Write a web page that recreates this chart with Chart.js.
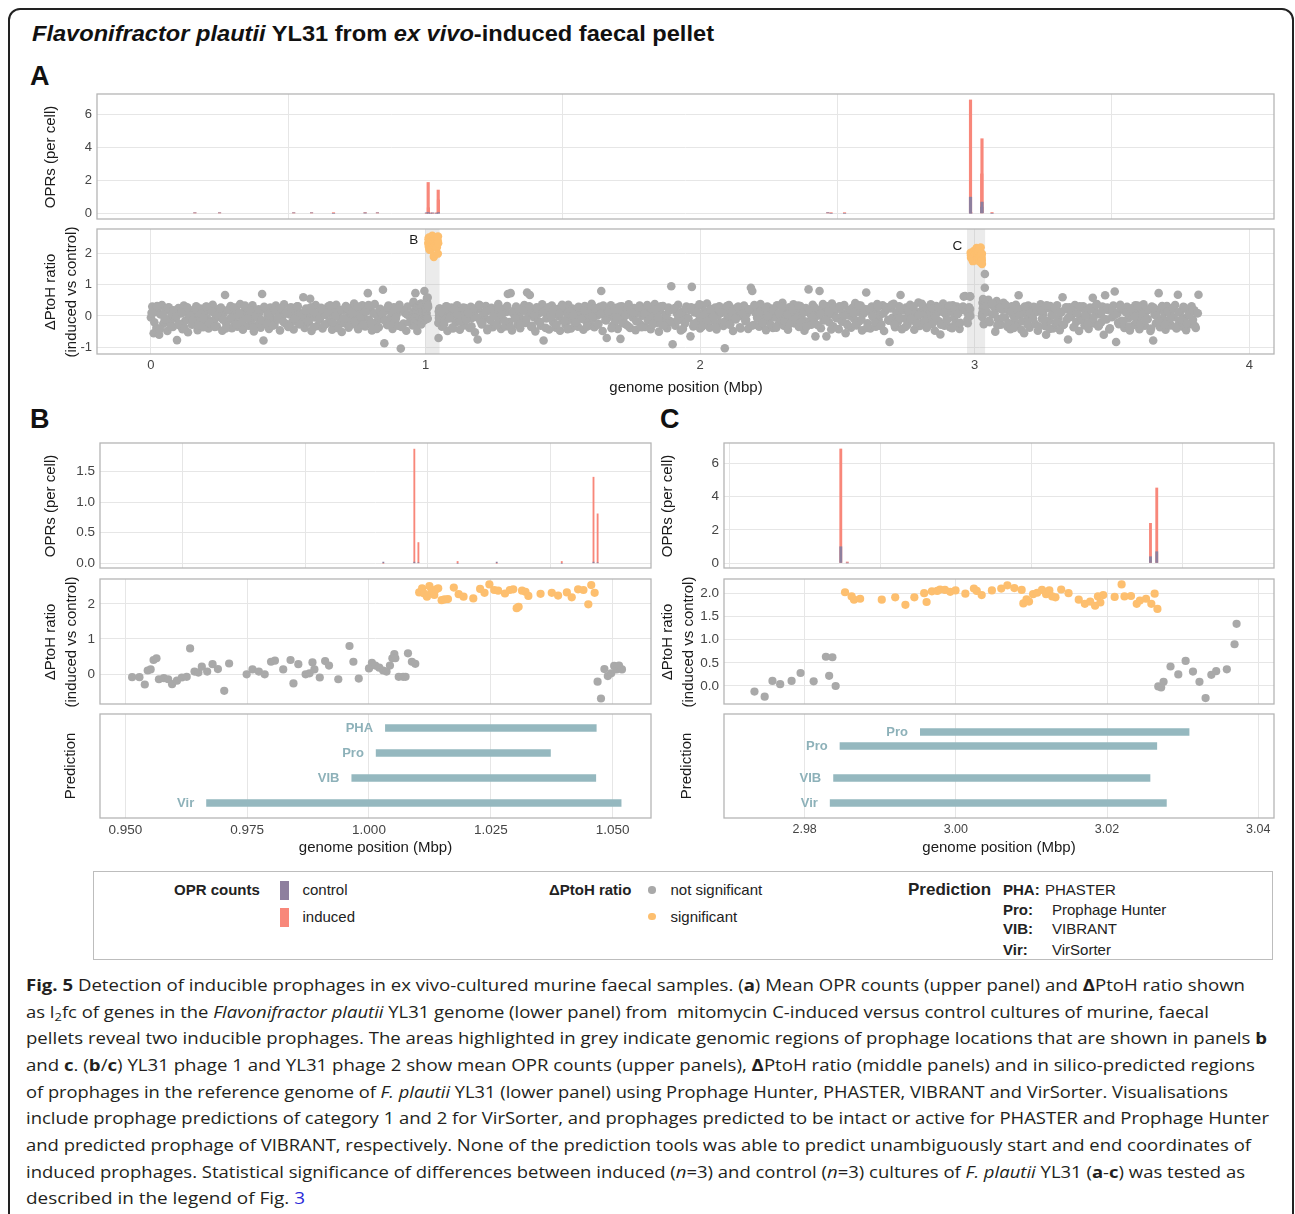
<!DOCTYPE html>
<html>
<head>
<meta charset="utf-8">
<script src="https://cdn.jsdelivr.net/npm/chart.js@4/dist/chart.umd.min.js"></script>
<style>
	body { margin: 0; width: 1295px; height: 1214px; position: relative; overflow: hidden; background: #fff; font-family: "Liberation Sans", Arial, sans-serif; color: #1a1a1a; }
	canvas { position: absolute; }
	.t { position: absolute; white-space: nowrap; }
	.rot { position: absolute; white-space: nowrap; font-size: 15px; line-height: 15px; transform: translate(-50%, -50%) rotate(-90deg); }
	.xt { position: absolute; white-space: nowrap; font-size: 15px; line-height: 15px; transform: translateX(-50%); }
	.letter { position: absolute; font-size: 27px; line-height: 27px; font-weight: bold; color: #111; }
	.cap { position: absolute; left: 26px; white-space: nowrap; font-family: "Open Sans", sans-serif; font-size: 16.5px; line-height: 16.5px; color: #231f20; transform-origin: 0 0; }
	.cap sub { font-size: 0.7em; vertical-align: -0.25em; line-height: 0; }
	.lg { position: absolute; white-space: nowrap; font-size: 15px; line-height: 15px; color: #222; }
</style>
</head>
<body>
<div style="position:absolute;left:8px;top:8px;width:1282px;height:1260px;border:2px solid #222;border-radius:12px;"></div>

<div id="title" class="t" style="left:32px;top:23px;font-size:22px;line-height:22px;font-weight:bold;color:#111;transform-origin:0 0;"><i>Flavonifractor plautii</i> YL31 from <i>ex vivo</i>-induced faecal pellet</div>

<div class="letter" style="left:30px;top:63px;">A</div>
<div class="letter" style="left:30px;top:406px;">B</div>
<div class="letter" style="left:660px;top:406px;">C</div>

<canvas id="cA1"></canvas>
<canvas id="cA2"></canvas>
<canvas id="cB1"></canvas>
<canvas id="cB2"></canvas>
<canvas id="cB3"></canvas>
<canvas id="cC1"></canvas>
<canvas id="cC2"></canvas>
<canvas id="cC3"></canvas>

<div class="rot" style="left:48.5px;top:157px;">OPRs (per cell)</div>
<div class="rot" style="left:49px;top:291.5px;">ΔPtoH ratio</div>
<div class="rot" style="left:69.5px;top:291.5px;">(induced vs control)</div>
<div class="xt" style="left:686px;top:379px;">genome position (Mbp)</div>

<div class="rot" style="left:49.4px;top:505.5px;">OPRs (per cell)</div>
<div class="rot" style="left:49.4px;top:641.5px;">ΔPtoH ratio</div>
<div class="rot" style="left:69.8px;top:641.5px;">(induced vs control)</div>
<div class="rot" style="left:69px;top:766px;">Prediction</div>
<div class="xt" style="left:375.5px;top:838.5px;">genome position (Mbp)</div>

<div class="rot" style="left:666px;top:505.5px;">OPRs (per cell)</div>
<div class="rot" style="left:666px;top:641.5px;">ΔPtoH ratio</div>
<div class="rot" style="left:686.5px;top:641.5px;">(induced vs control)</div>
<div class="rot" style="left:685px;top:766px;">Prediction</div>
<div class="xt" style="left:999px;top:838.5px;">genome position (Mbp)</div>

<!-- legend -->
<div style="position:absolute;left:93px;top:871px;width:1178px;height:87px;border:1.5px solid #bdbdbd;"></div>
<div class="lg" style="left:174px;top:881.5px;font-weight:bold;">OPR counts</div>
<div style="position:absolute;left:280px;top:881px;width:9px;height:19px;background:#8E7F9E;"></div>
<div style="position:absolute;left:280px;top:908px;width:9px;height:19px;background:#F8877A;"></div>
<div class="lg" style="left:302.5px;top:881.5px;">control</div>
<div class="lg" style="left:302.5px;top:908.5px;">induced</div>
<div class="lg" style="left:549px;top:881.5px;font-weight:bold;">ΔPtoH ratio</div>
<div style="position:absolute;left:648px;top:886px;width:7.5px;height:7.5px;border-radius:50%;background:#A9A9A9;"></div>
<div style="position:absolute;left:648px;top:912.5px;width:7.5px;height:7.5px;border-radius:50%;background:#FDBF6F;"></div>
<div class="lg" style="left:670.5px;top:881.5px;">not significant</div>
<div class="lg" style="left:670.5px;top:908.5px;">significant</div>
<div class="lg" style="left:908px;top:880.5px;font-size:17px;line-height:17px;font-weight:bold;">Prediction</div>
<div class="lg" style="left:1003px;top:881.5px;font-weight:bold;">PHA:</div>
<div class="lg" style="left:1045px;top:881.5px;">PHASTER</div>
<div class="lg" style="left:1003px;top:902px;font-weight:bold;">Pro:</div>
<div class="lg" style="left:1052px;top:902px;">Prophage Hunter</div>
<div class="lg" style="left:1003px;top:921px;font-weight:bold;">VIB:</div>
<div class="lg" style="left:1052px;top:921px;">VIBRANT</div>
<div class="lg" style="left:1003px;top:941.5px;font-weight:bold;">Vir:</div>
<div class="lg" style="left:1052px;top:941.5px;">VirSorter</div>

<!-- caption -->
<div class="cap" data-w="1219" style="top:977px;"><b>Fig. 5</b> Detection of inducible prophages in ex vivo-cultured murine faecal samples. (<b>a</b>) Mean OPR counts (upper panel) and <b>Δ</b>PtoH ratio shown</div>
<div class="cap" data-w="1183" style="top:1003.7px;">as l<sub>2</sub>fc of genes in the <i>Flavonifractor plautii</i> YL31 genome (lower panel) from&nbsp; mitomycin C-induced versus control cultures of murine, faecal</div>
<div class="cap" data-w="1241" style="top:1030.4px;">pellets reveal two inducible prophages. The areas highlighted in grey indicate genomic regions of prophage locations that are shown in panels <b>b</b></div>
<div class="cap" data-w="1229" style="top:1057px;">and <b>c</b>. (<b>b</b>/<b>c</b>) YL31 phage 1 and YL31 phage 2 show mean OPR counts (upper panels), <b>Δ</b>PtoH ratio (middle panels) and in silico-predicted regions</div>
<div class="cap" data-w="1202" style="top:1083.7px;">of prophages in the reference genome of <i>F. plautii</i> YL31 (lower panel) using Prophage Hunter, PHASTER, VIBRANT and VirSorter. Visualisations</div>
<div class="cap" data-w="1243" style="top:1110.4px;">include prophage predictions of category 1 and 2 for VirSorter, and prophages predicted to be intact or active for PHASTER and Prophage Hunter</div>
<div class="cap" data-w="1225" style="top:1137px;">and predicted prophage of VIBRANT, respectively. None of the prediction tools was able to predict unambiguously start and end coordinates of</div>
<div class="cap" data-w="1219" style="top:1163.7px;">induced prophages. Statistical significance of differences between induced (<i>n</i>=3) and control (<i>n</i>=3) cultures of <i>F. plautii</i> YL31 (<b>a</b>-<b>c</b>) was tested as</div>
<div class="cap" data-w="279" style="top:1190.4px;">described in the legend of Fig. <span style="color:#2a2ad8">3</span></div>

<script>
"use strict";

// ---------- data ----------

// OPR counts (per cell), genome position in Mbp
const oprPos     = [0.16, 0.25, 0.52, 0.585, 0.665, 0.78, 0.825, 1.00343, 1.00975, 1.01058, 1.01857, 1.02654, 1.0398, 1.04627, 1.04711, 2.465, 2.477, 2.526, 2.98478, 2.98564, 3.02575, 3.02658, 3.063];
const oprInduced = [0.02, 0.02, 0.02, 0.02, 0.04, 0.04, 0.02, 0.0, 1.87, 0.34, 0.03, 0.0, 0.03, 1.41, 0.81, 0.02, 0.04, 0.04, 6.87, 0.06, 2.39, 4.52, 0.05];
const oprControl = [0.03, 0.03, 0.03, 0.03, 0.0, 0.01, 0.03, 0.02, 0.02, 0.01, 0.0, 0.02, 0.0, 0.02, 0.01, 0.04, 0.0, 0.0, 0.98, 0.0, 0.38, 0.68, 0.0];

// delta PtoH ratio, genome-wide background (not significant), one value every 5 kb
const ptohBgStep = 0.005;
const ptohBg1Start = 0.0;
const ptohBg1 = [
	-0.05, 0.30, -0.55, 0.12, -0.38, 0.22, -0.60, 0.05, 0.35, -0.25,
	-0.12, 0.18, -0.48, 0.28, -0.20, 0.02, -0.35, 0.15, -0.08, -0.77,
	0.25, -0.30, 0.08, -0.42, 0.33, -0.15, 0.10, -0.52, 0.20, -0.02,
	-0.28, 0.14, -0.10, 0.31, -0.45, 0.04, 0.24, -0.18, -0.36, 0.11,
	0.29, -0.07, -0.40, 0.17, -0.22, 0.36, -0.13, 0.06, -0.33, 0.21,
	-0.04, 0.27, -0.47, 0.09, 0.67, -0.26, 0.19, -0.11, 0.32, -0.39,
	0.13, -0.19, 0.26, -0.34, 0.01, 0.38, -0.23, -0.44, 0.16, -0.06,
	0.23, -0.31, 0.07, -0.14, 0.34, -0.49, 0.18, -0.03, -0.27, 0.10,
	-0.37, 0.70, -0.78, 0.22, -0.16, 0.04, -0.41, 0.27, -0.09, 0.15,
	-0.29, 0.33, -0.12, 0.08, -0.46, 0.20, -0.01, 0.37, -0.24, 0.12,
	-0.35, 0.05, 0.28, -0.18, -0.43, 0.16, -0.07, 0.31, -0.26, 0.09,
	-0.15, 0.60, -0.38, 0.24, 0.02, -0.21, 0.55, -0.48, 0.13, -0.05,
	0.35, -0.32, 0.10, -0.11, 0.26, -0.40, 0.19, 0.03, -0.25, 0.30,
	-0.17, 0.07, -0.44, 0.22, -0.02, 0.36, -0.30, 0.14, -0.09, -0.51,
	0.18, -0.23, 0.32, -0.06, -0.37, 0.11, 0.25, -0.14, 0.40, -0.28,
	0.06, -0.42, 0.21, -0.19, 0.34, -0.03, -0.33, 0.15, 0.73, -0.12,
	0.27, -0.46, 0.09, 0.38, -0.20, 0.01, -0.36, 0.23, -0.10, 0.84,
	-0.87, 0.17, -0.29, 0.33, -0.08, 0.12, -0.41, 0.28, -0.15, 0.05,
	-0.31, 0.36, -1.04, 0.20, -0.24, 0.10, -0.47, 0.30, 0.02, -0.18
];
const ptohBg2Start = 1.055;
const ptohBg2 = [
	0.22, -0.34, 0.08, -0.15, 0.31, -0.48, 0.12, -0.02, 0.27, -0.40,
	0.05, -0.21, 0.34, -0.09, -0.44, 0.18, 0.02, -0.30, 0.25, -0.12,
	0.14, -0.38, 0.29, -0.06, 0.09, -0.52, 0.21, -0.75, 0.36, -0.17,
	-0.27, 0.11, -0.03, 0.32, -0.45, 0.17, -0.13, 0.26, -0.36, 0.04,
	0.19, -0.24, 0.38, -0.10, -0.41, 0.07, 0.23, -0.33, 0.13, 0.70,
	-0.19, 0.73, -0.46, 0.16, -0.07, 0.30, -0.28, 0.01, -0.39, 0.24,
	-0.11, 0.35, -0.22, 0.75, 0.06, 0.67, -0.35, 0.20, -0.04, -0.49,
	0.28, -0.16, 0.10, -0.31, 0.37, -0.78, 0.15, -0.08, 0.25, -0.43,
	0.03, 0.33, -0.20, 0.12, -0.37, 0.22, -0.01, -0.47, 0.30, -0.14,
	0.18, -0.29, 0.08, 0.36, -0.12, -0.40, 0.24, 0.00, -0.23, 0.14,
	-0.34, 0.27, -0.06, 0.11, -0.44, 0.32, -0.17, 0.05, 0.21, -0.30,
	0.39, -0.09, -0.36, 0.16, 0.02, -0.25, 0.29, 0.80, -0.48, 0.09,
	-0.13, -0.70, 0.23, -0.02, 0.34, -0.32, 0.13, -0.19, 0.26, -0.41,
	0.07, -0.73, 0.31, -0.11, 0.18, -0.27, 0.04, 0.37, -0.38, 0.15,
	-0.05, 0.25, -0.45, 0.10, -0.18, 0.33, -0.29, 0.01, 0.20, -0.35,
	0.29, -0.14, 0.06, -0.42, 0.24, -0.03, 0.38, -0.22, 0.12, -0.50,
	0.17, -0.26, 0.32, -0.08, 0.03, -0.39, 0.27, -0.16, 0.95, -0.90,
	0.21, -0.31, 0.09, 0.36, -0.12, -0.46, 0.14, 0.01, -0.24, 0.30,
	-0.07, 0.19, -0.65, 0.93, -0.33, 0.11, 0.26, -0.19, 0.05, -0.40,
	0.34, -0.10, 0.16, -0.28, 0.40, -0.04, -0.37, 0.22, 0.08, -0.15,
	0.27, -0.43, 0.02, 0.31, -0.21, 0.13, -0.32, -1.03, 0.18, -0.06,
	0.35, -0.26, 0.10, -0.48, 0.23, -0.11, 0.04, 0.29, -0.36, 0.15,
	-0.02, 0.33, -0.17, 0.07, -0.41, 0.20, 0.90, 0.80, -0.29, 0.12,
	0.26, -0.09, -0.34, 0.38, 0.00, -0.22, 0.17, -0.45, 0.30, -0.13,
	0.09, 0.24, -0.38, 0.14, -0.05, 0.34, -0.27, 0.06, -0.16, 0.42,
	-0.31, 0.19, -0.02, -0.44, 0.28, -0.12, 0.11, 0.37, -0.24, 0.03,
	0.21, -0.35, 0.32, -0.07, 0.15, -0.47, 0.25, -0.18, 0.85, 0.08,
	-0.28, 0.36, -0.10, -0.65, 0.18, 0.02, 0.80, -0.39, 0.27, -0.14,
	0.12, -0.65, 0.31, -0.20, 0.05, 0.40, -0.33, 0.16, -0.04, 0.23,
	-0.42, 0.29, -0.15, 0.09, 0.35, -0.55, -0.25, 0.19, 0.01, -0.37,
	0.26, -0.08, 0.41, -0.30, 0.13, -0.17, 0.33, -0.46, 0.07, 0.22,
	0.75, -0.23, 0.15, -0.40, 0.30, -0.03, 0.20, -0.34, 0.38, -0.11,
	0.04, -0.27, 0.34, -0.48, 0.17, 0.28, -0.13, -0.83, 0.24, -0.06,
	0.39, -0.36, 0.10, -0.19, 0.31, 0.67, -0.42, 0.18, -0.09, 0.27,
	-0.29, 0.06, 0.36, -0.14, 0.22, -0.44, 0.13, -0.01, 0.43, -0.32,
	0.16, -0.21, 0.29, 0.03, -0.38, 0.25, -0.10, 0.37, -0.26, 0.08,
	-0.47, 0.32, 0.11, -0.17, -0.59, 0.20, 0.40, -0.31, 0.05, -0.12,
	0.28, -0.36, 0.14, 0.34, -0.06, -0.23, 0.30, 0.09, -0.41, 0.19,
	0.26, 0.62, 0.64
];
const ptohBg3Start = 3.040;
const ptohBg3 = [
	0.45, 0.12, 0.52, -0.20, 0.38, 0.05, 0.30, -0.50, 0.48, -0.10,
	0.35, -0.28, 0.20, 0.42, -0.05, 0.27, -0.35, 0.15, -0.42, 0.31,
	0.02, -0.18, 0.36, -0.30, 0.66, 0.10, -0.44, 0.24, -0.55, 0.08,
	-0.13, 0.33, -0.37, 0.18, -0.02, 0.29, -0.25, 0.13, -0.47, 0.21,
	0.37, -0.09, 0.06, -0.32, -0.60, 0.26, -0.16, 0.32, 0.01, -0.40,
	0.17, -0.22, 0.34, -0.06, -0.45, 0.11, 0.60, -0.27, 0.22, -0.12,
	-0.75, 0.28, -0.03, 0.14, -0.36, 0.35, -0.19, 0.07, -0.48, 0.25,
	-0.08, 0.31, -0.30, 0.16, 0.02, -0.41, 0.27, -0.14, 0.58, -0.24,
	0.12, 0.38, -0.33, 0.05, -0.21, 0.30, -0.60, 0.66, -0.11, 0.19,
	-0.43, 0.24, -0.04, 0.33, 0.78, -0.83, 0.09, -0.26, 0.36, -0.15,
	0.20, -0.38, 0.13, 0.29, -0.07, -0.46, 0.23, 0.00, -0.29, 0.34,
	-0.17, 0.10, -0.42, 0.26, -0.01, 0.37, -0.31, 0.15, -0.10, 0.21,
	-0.48, 0.30, -0.78, 0.04, -0.23, 0.18, 0.73, -0.36, 0.27, -0.09,
	0.11, -0.44, 0.32, -0.15, 0.07, -0.30, 0.25, -0.04, 0.35, -0.40,
	0.68, -0.19, 0.14, -0.33, 0.29, -0.07, -0.45, 0.22, 0.03, -0.26,
	0.31, -0.12, 0.18, -0.38, 0.09, 0.68
];

// extra genes sitting between the ones above (one every 10 kb, shifted by 2.5 kb)
const ptohFillStep = 0.01;
const ptohFill1Start = 0.0025;
const ptohFill1 = [
	0.10, -0.20, 0.32, -0.42, 0.05, -0.10, 0.26, -0.33, 0.18, -0.02,
	-0.25, 0.12, -0.38, 0.28, 0.00, -0.15, 0.22, -0.30, 0.08, -0.06,
	0.30, -0.22, 0.14, -0.35, 0.03, 0.24, -0.12, -0.40, 0.19, -0.05,
	0.27, -0.28, 0.09, -0.17, 0.33, -0.08, 0.16, -0.37, 0.02, 0.21,
	-0.13, 0.29, -0.24, 0.07, -0.31, 0.17, -0.04, 0.25, -0.19, 0.11,
	-0.34, 0.23, -0.09, 0.31, -0.26, 0.04, 0.18, -0.16, 0.28, -0.36,
	0.06, -0.11, 0.22, -0.29, 0.13, 0.34, -0.21, 0.01, -0.39, 0.20,
	-0.07, 0.26, -0.32, 0.10, -0.18, 0.30, -0.02, -0.27, 0.15, 0.35,
	-0.23, 0.08, -0.41, 0.19, 0.03, -0.14, 0.27, -0.30, 0.12, -0.06,
	0.24, -0.35, 0.16, 0.05, -0.20
];
const ptohFill2Start = 1.0575;
const ptohFill2 = [
	0.15, -0.26, 0.30, -0.08, -0.37, 0.21, 0.02, -0.18, 0.27, -0.12,
	0.09, -0.33, 0.24, -0.04, 0.34, -0.22, 0.12, -0.40, 0.19, -0.01,
	-0.29, 0.26, 0.05, -0.15, 0.32, -0.35, 0.10, -0.07, 0.22, -0.25,
	0.17, -0.11, 0.31, -0.31, 0.04, 0.23, -0.19, 0.13, -0.38, 0.28,
	-0.03, 0.20, -0.27, 0.08, 0.36, -0.16, -0.42, 0.14, 0.01, -0.21,
	0.29, -0.09, 0.18, -0.34, 0.11, -0.02, 0.25, -0.28, 0.06, 0.33,
	-0.14, 0.16, -0.39, 0.22, -0.06, 0.30, -0.23, 0.03, -0.32, 0.19,
	0.12, -0.17, 0.27, -0.36, 0.07, 0.35, -0.10, -0.26, 0.21, -0.04,
	0.31, -0.30, 0.02, 0.17, -0.20, 0.25, -0.13, 0.09, -0.41, 0.23,
	-0.07, 0.28, -0.24, 0.14, 0.37, -0.33, 0.05, -0.15, 0.20, -0.02,
	-0.36, 0.24, 0.10, -0.19, 0.32, -0.28, 0.16, -0.08, 0.29, -0.40,
	0.06, -0.12, 0.21, -0.31, 0.35, -0.05, 0.13, -0.22, 0.26, 0.00,
	-0.27, 0.18, -0.37, 0.09, 0.30, -0.16, 0.04, -0.25, 0.22, -0.10,
	0.33, -0.20, 0.11, -0.34, 0.19, -0.03, 0.27, -0.29, 0.07, 0.38,
	-0.13, 0.15, -0.43, 0.25, -0.07, 0.31, -0.18, 0.02, -0.30, 0.20,
	0.10, -0.24, 0.34, -0.11, 0.17, -0.38, 0.23, -0.01, -0.21, 0.29,
	-0.32, 0.08, 0.26, -0.15, 0.36, -0.27, 0.12, -0.06, 0.21, -0.35,
	0.18, -0.09, 0.30, -0.23, 0.03, 0.39, -0.17, -0.33, 0.14, 0.24,
	-0.05, 0.27, -0.28, 0.11, -0.14, 0.33, -0.39, 0.20, 0.06, -0.22,
	0.30, 0.16
];
const ptohFill3Start = 3.0425;
const ptohFill3 = [
	0.32, -0.15, 0.40, 0.08, -0.30, 0.25, -0.05, 0.36, -0.22, 0.14,
	-0.38, 0.21, 0.02, -0.17, 0.30, -0.27, 0.10, -0.08, 0.26, -0.33,
	0.17, -0.12, 0.34, -0.41, 0.06, 0.23, -0.20, 0.12, -0.29, 0.28,
	-0.03, 0.19, -0.35, 0.09, 0.31, -0.14, 0.01, -0.24, 0.22, -0.06,
	0.35, -0.31, 0.13, -0.10, 0.27, -0.39, 0.18, 0.04, -0.21, 0.29,
	-0.16, 0.11, -0.34, 0.24, -0.02, 0.33, -0.26, 0.07, -0.13, 0.20,
	-0.40, 0.26, 0.00, -0.18, 0.32, -0.28, 0.15, -0.07, 0.23, -0.36,
	0.12, -0.11, 0.28, -0.25, 0.05, 0.19, -0.32, 0.09
];

// prophage region 1 (panel B)
const bGreyPos = [0.9514, 0.9529, 0.9540, 0.9546, 0.9552, 0.9558, 0.9564, 0.9569, 0.9579, 0.9588, 0.9596, 0.9606, 0.9616, 0.9626, 0.9633, 0.9642, 0.9650, 0.9657, 0.9668, 0.9679, 0.9690, 0.9703, 0.9713, 0.9749, 0.9761, 0.9774, 0.9786, 0.9799, 0.9807, 0.9824, 0.9839, 0.9845, 0.9855, 0.9870, 0.9878, 0.9884, 0.9888, 0.9899, 0.9910, 0.9918, 0.9937, 0.9960, 0.9968, 0.9979, 1.0000, 1.0006, 1.0013, 1.0021, 1.0029, 1.0036, 1.0043, 1.0048, 1.0052, 1.0054, 1.0061, 1.0070, 1.0075, 1.0080, 1.0088, 1.0095, 1.0469, 1.0476, 1.0483, 1.0490, 1.0497, 1.0503, 1.0508, 1.0513, 1.0519];
const bGreyVal = [-0.09, -0.09, -0.30, 0.10, 0.13, 0.40, 0.45, -0.15, -0.12, -0.15, -0.29, -0.19, -0.10, -0.08, 0.73, 0.07, 0.04, 0.21, 0.07, 0.28, 0.14, -0.48, 0.30, -0.01, 0.13, 0.07, -0.01, 0.35, 0.38, 0.13, 0.40, -0.27, 0.28, -0.01, 0.02, 0.33, 0.13, -0.10, 0.37, 0.24, -0.15, 0.80, 0.35, -0.13, 0.16, 0.32, 0.24, 0.18, 0.10, 0.07, 0.24, 0.45, 0.57, 0.45, -0.08, -0.08, -0.08, 0.59, 0.35, 0.29, -0.22, -0.70, 0.14, -0.06, 0.02, 0.23, 0.13, 0.24, 0.13];
const bSigPos = [1.0103, 1.0109, 1.0113, 1.0119, 1.0124, 1.0128, 1.0134, 1.0138, 1.0142, 1.0149, 1.0155, 1.0162, 1.0174, 1.0184, 1.0194, 1.0214, 1.0228, 1.0237, 1.0247, 1.0257, 1.0265, 1.0279, 1.0289, 1.0296, 1.0303, 1.0307, 1.0314, 1.0321, 1.0327, 1.0352, 1.0375, 1.0388, 1.0406, 1.0416, 1.0429, 1.0440, 1.0450, 1.0456, 1.0463];
const bSigVal = [2.33, 2.45, 2.30, 2.21, 2.51, 2.35, 2.26, 2.42, 2.45, 2.11, 2.13, 2.14, 2.47, 2.28, 2.21, 2.16, 2.43, 2.32, 2.56, 2.40, 2.38, 2.30, 2.40, 2.42, 1.88, 1.92, 2.38, 2.35, 2.23, 2.29, 2.32, 2.24, 2.33, 2.19, 2.42, 2.40, 1.99, 2.54, 2.32];

// prophage region 2 (panel C)
const cGreyPos = [2.97336, 2.97471, 2.97574, 2.97676, 2.97827, 2.97946, 2.98119, 2.98281, 2.98324, 2.98367, 2.98410, 3.02678, 3.02716, 3.02748, 3.02840, 3.02943, 3.03040, 3.03137, 3.03223, 3.03304, 3.03380, 3.03444, 3.03585, 3.03687, 3.03714];
const cGreyVal = [-0.12, -0.23, 0.11, 0.04, 0.11, 0.28, 0.10, 0.63, 0.22, 0.62, 0.00, -0.01, -0.03, 0.09, 0.42, 0.25, 0.54, 0.31, 0.09, -0.26, 0.24, 0.32, 0.36, 0.90, 1.34];
const cSigPos = [2.98534, 2.98621, 2.98653, 2.98734, 2.99020, 2.99198, 2.99333, 2.99451, 2.99581, 2.99613, 2.99683, 2.99754, 2.99791, 2.99856, 2.99926, 2.99996, 3.00126, 3.00239, 3.00277, 3.00342, 3.00477, 3.00601, 3.00682, 3.00774, 3.00871, 3.00893, 3.00935, 3.00968, 3.01022, 3.01076, 3.01140, 3.01194, 3.01237, 3.01275, 3.01318, 3.01394, 3.01491, 3.01626, 3.01707, 3.01777, 3.01842, 3.01880, 3.01912, 3.01950, 3.02101, 3.02193, 3.02231, 3.02317, 3.02393, 3.02435, 3.02516, 3.02586, 3.02630, 3.02667];
const cSigVal = [2.02, 1.93, 1.86, 1.88, 1.86, 1.91, 1.75, 1.91, 2.00, 1.81, 2.04, 2.05, 2.08, 2.07, 2.03, 2.06, 1.99, 2.10, 2.05, 1.96, 2.06, 2.10, 2.17, 2.11, 2.07, 1.78, 1.87, 1.82, 1.98, 2.01, 2.07, 1.98, 2.06, 1.93, 1.91, 2.08, 2.00, 1.86, 1.77, 1.82, 1.73, 1.93, 1.80, 1.96, 1.92, 2.19, 1.93, 1.94, 1.77, 1.84, 1.88, 1.77, 1.99, 1.66];

// prophage predictions (start / end in Mbp)
const predLabelsB = ["PHA", "Pro", "VIB", "Vir"];
const predRowB = [4, 3, 2, 1];
const predStartB = [1.0033, 1.0014, 0.9964, 0.9666];
const predEndB = [1.0467, 1.0373, 1.0466, 1.0518];

const predLabelsC = ["Pro", "Pro", "VIB", "Vir"];
const predRowC = [3.84, 3.28, 2, 1];
const predStartC = [2.99526, 2.98463, 2.98378, 2.98333];
const predEndC = [3.0309, 3.02663, 3.02573, 3.0279];

// highlighted regions in panel A
const highlightRegions = [[1.0, 1.051], [2.972, 3.038]];
const regionLabels = ["B", "C"];
const regionLabelX = [0.957, 2.937];
const regionLabelY = [2.43, 2.23];

// tick values
const ticksAx = [0, 1, 2, 3, 4];
const ticksAOpr = [0, 2, 4, 6];
const ticksAPtoh = [-1, 0, 1, 2];
const ticksBx = [0.950, 0.975, 1.000, 1.025, 1.050];
const ticksBOpr = [0, 0.5, 1, 1.5];
const ticksBPtoh = [0, 1, 2];
const ticksCx = [2.98, 3.00, 3.02, 3.04];
const ticksCOpr = [0, 2, 4, 6];
const ticksCPtoh = [0, 0.5, 1, 1.5, 2];

// ---------- styling ----------

const FONT = '"Liberation Sans", Arial, sans-serif';
const GRID = "#E6E6E6";
const BORDER = "#B5B5B5";
const TICK = "#444444";
const CONTROL = "#8E7F9E";
const INDUCED = "#F8877A";
const NOTSIG = "#A9A9A9";
const SIG = "#FDBF6F";
const PRED = "#95B8BF";
const PRED_TEXT = "#8DB1B9";
const PAD = 16;   // top/bottom room, larger than the y tick label overflow
const PADR = 8;
const YW = 40;

// ---------- helpers ----------

function pairs(xs, ys) {
	return xs.map((x, i) => ({x: x, y: ys[i]}));
}

function bgSeries(start, step, vals) {
	return vals.map((v, i) => ({x: +(start + i * step).toFixed(4), y: v}));
}

function setupCanvas(id, box, xh) {
	const c = document.getElementById(id);
	const w = YW + box[2] - box[0] + PADR;
	const h = PAD + box[3] - box[1] + xh + PAD;
	c.width = w;
	c.height = h;
	c.style.left = (box[0] - YW) + "px";
	c.style.top = (box[1] - PAD) + "px";
	c.style.width = w + "px";
	c.style.height = h + "px";
	return c;
}

function axis(range, ticks, o) {
	return {
		type: "linear",
		min: range[0],
		max: range[1],
		offset: false,
		afterBuildTicks: s => { s.ticks = ticks.map(v => ({value: v})); },
		afterFit: s => {
			if (o.horizontal) {
				s.height = o.size;
			} else {
				s.width = o.size;
			}
		},
		grid: {display: o.grid !== false, color: GRID, lineWidth: 1, drawTicks: false},
		border: {display: false},
		ticks: {
			display: !!o.labels,
			color: TICK,
			font: {family: FONT, size: o.fontSize || 13},
			padding: o.padding || 5,
			maxRotation: 0,
			minRotation: 0,
			autoSkip: false,
			callback: v => o.fmt ? o.fmt(v) : String(v),
		},
	};
}

const panelBorder = {
	id: "panelBorder",
	afterDraw(chart) {
		const a = chart.chartArea;
		const ctx = chart.ctx;
		ctx.save();
		ctx.strokeStyle = BORDER;
		ctx.lineWidth = 1.3;
		ctx.strokeRect(a.left, a.top, a.right - a.left, a.bottom - a.top);
		ctx.restore();
	},
};

const highlight = {
	id: "highlight",
	beforeDatasetsDraw(chart) {
		const ctx = chart.ctx;
		const a = chart.chartArea;
		const x = chart.scales.x;
		const y = chart.scales.y;
		ctx.save();
		ctx.fillStyle = "rgba(190, 190, 190, 0.3)";
		for (const r of highlightRegions) {
			const x0 = x.getPixelForValue(r[0]);
			const x1 = x.getPixelForValue(r[1]);
			ctx.fillRect(x0, a.top, x1 - x0, a.bottom - a.top);
		}
		ctx.fillStyle = "#1a1a1a";
		ctx.font = "13.5px " + FONT;
		ctx.textAlign = "center";
		ctx.textBaseline = "middle";
		regionLabels.forEach((t, i) => {
			ctx.fillText(t, x.getPixelForValue(regionLabelX[i]), y.getPixelForValue(regionLabelY[i]));
		});
		ctx.restore();
	},
};

function predLabelPlugin(labels, rows, starts) {
	return {
		id: "predLabels",
		afterDatasetsDraw(chart) {
			const ctx = chart.ctx;
			const x = chart.scales.x;
			const y = chart.scales.y;
			ctx.save();
			ctx.fillStyle = PRED_TEXT;
			ctx.font = "bold 13px " + FONT;
			ctx.textAlign = "right";
			ctx.textBaseline = "middle";
			labels.forEach((t, i) => {
				ctx.fillText(t, x.getPixelForValue(starts[i]) - 12, y.getPixelForValue(rows[i]));
			});
			ctx.restore();
		},
	};
}

function makeChart(id, box, xh, type, datasets, scales, plugins) {
	const canvas = setupCanvas(id, box, xh);
	return new Chart(canvas, {
		type: type,
		data: {datasets: datasets},
		options: {
			responsive: false,
			animation: false,
			devicePixelRatio: 1,
			events: [],
			layout: {padding: {left: 0, top: PAD, right: PADR, bottom: PAD}},
			plugins: {legend: {display: false}, tooltip: {enabled: false}},
			scales: scales,
		},
		plugins: [panelBorder].concat(plugins || []),
	});
}

function oprDatasets(thick) {
	// control first so it is drawn on top of induced
	return [
		{data: pairs(oprPos, oprControl), backgroundColor: CONTROL, barThickness: thick, grouped: false},
		{data: pairs(oprPos, oprInduced), backgroundColor: INDUCED, barThickness: thick, grouped: false},
	];
}

function pointSet(data, color, r) {
	return {data: data, pointRadius: r, pointBackgroundColor: color, pointBorderWidth: 0, pointHoverRadius: 0, showLine: false};
}

function predDatasets(rows, starts, ends) {
	return rows.map((r, i) => ({
		data: [{x: starts[i], y: r}, {x: ends[i], y: r}],
		showLine: true,
		borderColor: PRED,
		borderWidth: 7.5,
		borderCapStyle: "butt",
		pointRadius: 0,
	}));
}

const fmt0 = v => String(Math.round(v));
const fmt1 = v => v.toFixed(1);
const fmt2 = v => v.toFixed(2);
const fmt3 = v => v.toFixed(3);

// ---------- panel A ----------

const rangeAx = [-0.1963, 4.09];

makeChart("cA1", [97, 94, 1274, 219], 0, "bar", oprDatasets(2.5), {
	x: axis(rangeAx, ticksAx, {horizontal: true, size: 0}),
	y: axis([-0.345, 7.23], ticksAOpr, {size: YW, labels: true, fmt: fmt0}),
});

const greyA = bgSeries(ptohBg1Start, ptohBgStep, ptohBg1)
	.concat(bgSeries(ptohFill1Start, ptohFillStep, ptohFill1))
	.concat(pairs(bGreyPos, bGreyVal))
	.concat(bgSeries(ptohBg2Start, ptohBgStep, ptohBg2))
	.concat(bgSeries(ptohFill2Start, ptohFillStep, ptohFill2))
	.concat(pairs(cGreyPos, cGreyVal))
	.concat(bgSeries(ptohBg3Start, ptohBgStep, ptohBg3))
	.concat(bgSeries(ptohFill3Start, ptohFillStep, ptohFill3));
const sigA = pairs(bSigPos, bSigVal).concat(pairs(cSigPos, cSigVal));

makeChart("cA2", [97, 229, 1274, 354], 20, "scatter", [
	pointSet(sigA, SIG, 4.2),
	pointSet(greyA, NOTSIG, 4.3),
], {
	x: axis(rangeAx, ticksAx, {horizontal: true, size: 20, labels: true, fmt: fmt0, padding: 4}),
	y: axis([-1.213, 2.777], ticksAPtoh, {size: YW, labels: true, fmt: fmt0}),
}, [highlight]);

// ---------- panel B ----------

const rangeBx = [0.94481, 1.05786];

makeChart("cB1", [100, 443, 651, 568], 0, "bar", oprDatasets(1.2), {
	x: axis([0.94568, 1.05799], ticksBx, {horizontal: true, size: 0}),
	y: axis([-0.077, 1.97], ticksBOpr, {size: YW, labels: true, fmt: fmt1, fontSize: 13.5}),
});

makeChart("cB2", [100, 579, 651, 704], 0, "scatter", [
	pointSet(pairs(bSigPos, bSigVal), SIG, 4.1),
	pointSet(pairs(bGreyPos, bGreyVal), NOTSIG, 4.1),
], {
	x: axis(rangeBx, ticksBx, {horizontal: true, size: 0}),
	y: axis([-0.857, 2.714], ticksBPtoh, {size: YW, labels: true, fmt: fmt0, fontSize: 13.5}),
});

makeChart("cB3", [100, 714, 651, 818], 20, "scatter", predDatasets(predRowB, predStartB, predEndB), {
	x: axis(rangeBx, ticksBx, {horizontal: true, size: 20, labels: true, fmt: fmt3, fontSize: 13.5, padding: 4}),
	y: axis([0.4, 4.56], [], {size: YW, grid: false}),
}, [predLabelPlugin(predLabelsB, predRowB, predStartB)]);

// ---------- panel C ----------

const rangeCx = [2.96933, 3.04209];

makeChart("cC1", [724, 443, 1274, 568], 0, "bar", oprDatasets(2.2), {
	x: axis(rangeCx, ticksCx, {horizontal: true, size: 0}),
	y: axis([-0.301, 7.229], ticksCOpr, {size: YW, labels: true, fmt: fmt0, fontSize: 13.5}),
});

makeChart("cC2", [724, 579, 1274, 704], 0, "scatter", [
	pointSet(pairs(cSigPos, cSigVal), SIG, 4.1),
	pointSet(pairs(cGreyPos, cGreyVal), NOTSIG, 4.1),
], {
	x: axis(rangeCx, ticksCx, {horizontal: true, size: 0}),
	y: axis([-0.388, 2.306], ticksCPtoh, {size: YW, labels: true, fmt: fmt1, fontSize: 13.5}),
});

makeChart("cC3", [724, 714, 1274, 818], 20, "scatter", predDatasets(predRowC, predStartC, predEndC), {
	x: axis(rangeCx, ticksCx, {horizontal: true, size: 20, labels: true, fmt: fmt2, fontSize: 12.5, padding: 4}),
	y: axis([0.4, 4.56], [], {size: YW, grid: false}),
}, [predLabelPlugin(predLabelsC, predRowC, predStartC)]);

// ---------- fit title and caption lines to their widths ----------

function fitWidth(el, target) {
	const w = el.getBoundingClientRect().width;
	el.style.transformOrigin = "0 0";
	el.style.transform = "scaleX(" + (target / w) + ")";
}

fitWidth(document.getElementById("title"), 682);
document.querySelectorAll(".cap").forEach(el => fitWidth(el, +el.dataset.w));
</script>
</body>
</html>
